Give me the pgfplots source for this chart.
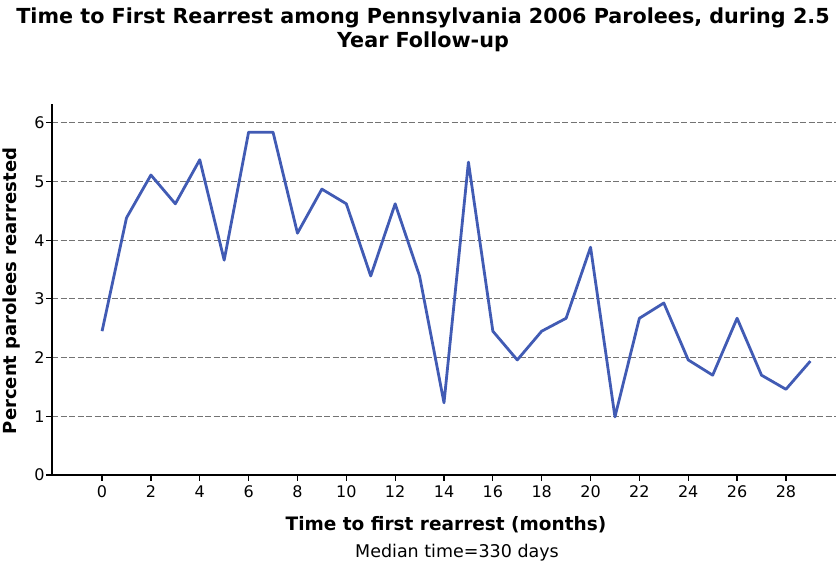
\documentclass[border=0pt]{standalone}
\usepackage{pgfplots}
\pgfplotsset{compat=1.18}
\usepackage{fontspec}
\setmainfont{DejaVu Sans}
\definecolor{lineblue}{RGB}{65,91,180}
\begin{document}
\begin{tikzpicture}[x=1pt,y=1pt]
\useasboundingbox (0,0) rectangle (836,564);
\begin{axis}[
  at={(52pt,89pt)}, anchor=south west,
  scale only axis, width=784pt, height=371pt,
  xmin=-2.05, xmax=30.05, ymin=0, ymax=6.32,
  axis x line=bottom, axis y line=left,
  axis line style={-, black, line width=1.4pt},
  xtick={0,2,...,28}, ytick={0,1,...,6},
  tick align=outside, major tick length=6pt,
  tick style={black, line width=1.2pt},
  ymajorgrids, grid style={dash pattern=on 6pt off 2.5pt, gray!90!black, line width=1.1pt},
  ticklabel style={font=\fontsize{16}{18}\selectfont},
  /pgf/number format/assume math mode=true,
  xticklabel style={yshift=-1pt},
  yticklabel style={xshift=2pt},
  clip=false,
]
\addplot[lineblue, line width=2.8pt, line join=round] coordinates {
(0,2.45) (1,4.38) (2,5.11) (3,4.62) (4,5.37) (5,3.66) (6,5.84) (7,5.84)
(8,4.12) (9,4.87) (10,4.62) (11,3.39) (12,4.62) (13,3.39) (14,1.23)
(15,5.33) (16,2.45) (17,1.96) (18,2.45) (19,2.67) (20,3.88) (21,0.99)
(22,2.67) (23,2.93) (24,1.96) (25,1.70) (26,2.67) (27,1.70) (28,1.46) (29,1.94)
};
\end{axis}
\node[font=\bfseries\fontsize{20.7}{24}\selectfont, align=center] at (423,534) {Time to First Rearrest among Pennsylvania 2006 Parolees, during 2.5\\Year Follow-up};
\node[font=\bfseries\fontsize{18.5}{21}\selectfont] at (446,39) {Time to first rearrest (months)};
\node[font=\fontsize{17.5}{20}\selectfont] at (457,11) {Median time=330 days};
\node[font=\bfseries\fontsize{18}{21}\selectfont, rotate=90] at (12,273) {Percent parolees rearrested};
\end{tikzpicture}
\end{document}
